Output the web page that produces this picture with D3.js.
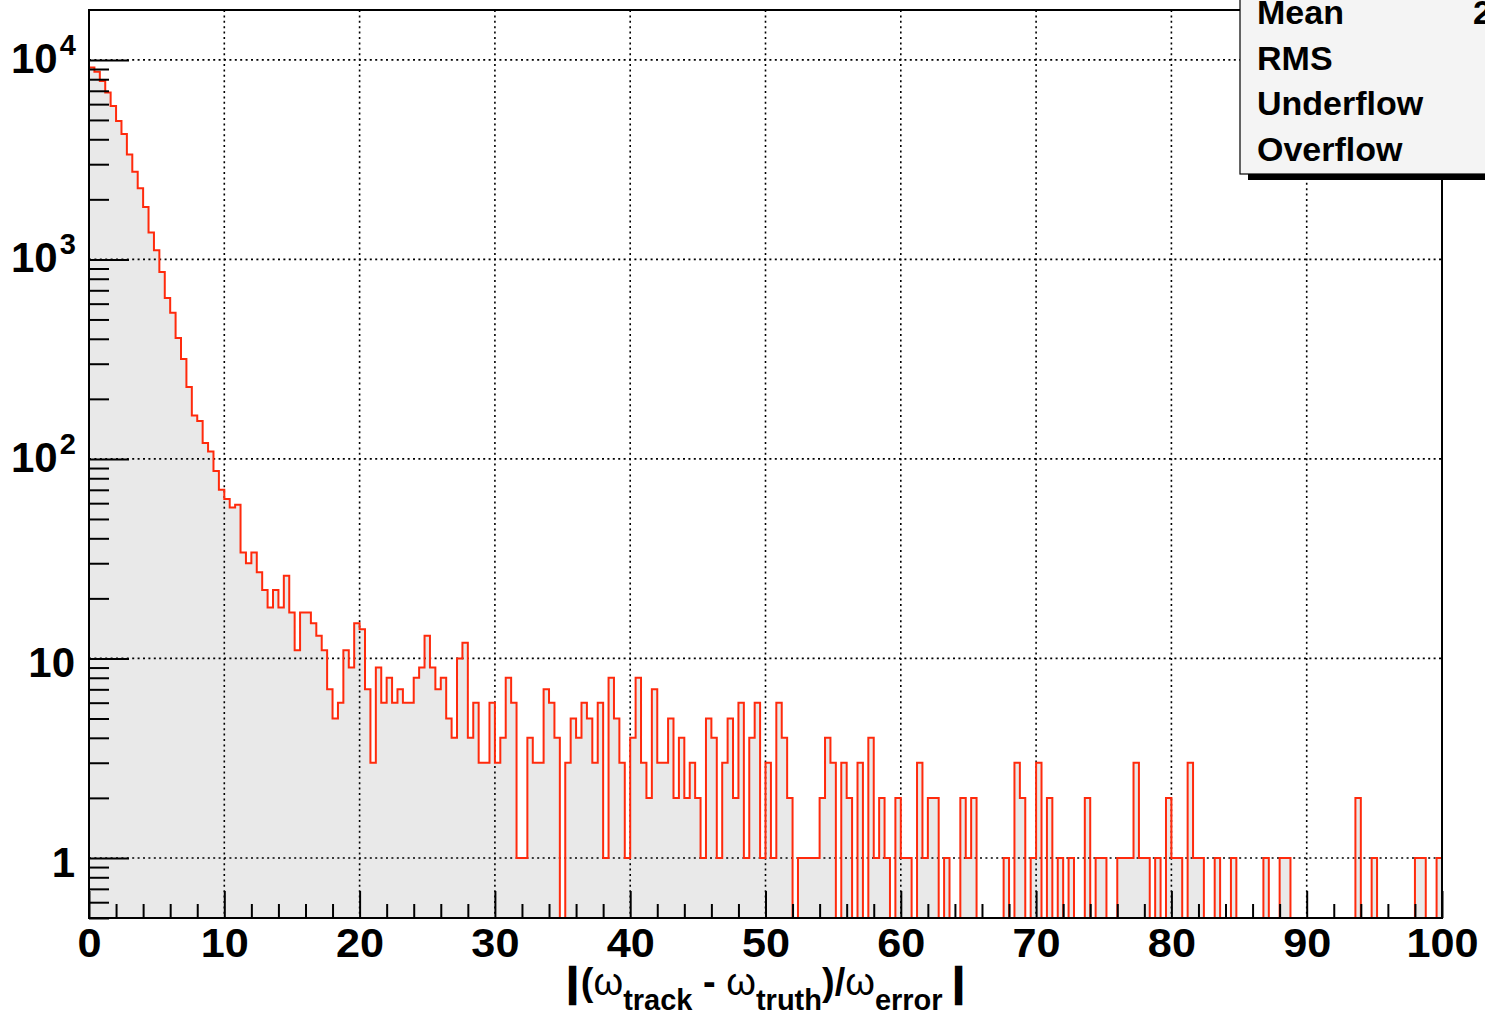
<!DOCTYPE html>
<html>
<head>
<meta charset="utf-8">
<script src="https://cdn.jsdelivr.net/npm/d3@7"></script>
<style>
  html, body { margin: 0; padding: 0; background: #fff; overflow: hidden; }
  svg text { font-family: "Liberation Sans", Arial, Helvetica, sans-serif; font-weight: bold; }
</style>
</head>
<body>
<div id="chart"></div>
<script>
// histogram binning (250 bins on 0..100)
const xMin = 0, xMax = 100, nBins = 250;

// bin contents, bin i = [0.4*i, 0.4*(i+1))
const counts = [
  9150, 8710, 7830, 6860, 5870, 4940, 4250, 3360, 2750, 2270,
  1830, 1365, 1110, 864, 640, 541, 404, 317, 229, 165,
  155, 120, 109, 87, 70, 63, 57, 59, 34, 30,
  34, 27, 22, 18, 22, 18, 26, 17, 11, 17,
  17, 15, 13, 11, 7, 5, 6, 11, 9, 15,
  14, 7, 3, 9, 6, 8, 6, 7, 6, 6,
  8, 9, 13, 9, 7, 8, 5, 4, 10, 12,
  4, 6, 3, 3, 6, 3, 4, 8, 6, 1,
  1, 4, 3, 3, 7, 6, 4, 0, 3, 5,
  4, 6, 5, 3, 6, 1, 8, 5, 3, 1,
  4, 8, 3, 2, 7, 3, 3, 5, 2, 4,
  2, 3, 2, 1, 5, 4, 1, 3, 5, 2,
  6, 1, 4, 6, 1, 3, 1, 6, 4, 2,
  0, 1, 1, 1, 1, 2, 4, 3, 0, 3,
  2, 0, 3, 0, 4, 1, 2, 1, 0, 2,
  1, 1, 0, 3, 1, 2, 2, 0, 1, 0,
  0, 2, 1, 2, 0, 0, 0, 0, 0, 1,
  0, 3, 2, 0, 1, 3, 0, 2, 0, 1,
  0, 1, 0, 0, 2, 0, 1, 1, 0, 0,
  1, 1, 1, 3, 1, 1, 0, 1, 0, 2,
  1, 1, 0, 3, 1, 1, 0, 0, 1, 0,
  0, 1, 0, 0, 0, 0, 0, 1, 0, 0,
  1, 1, 0, 0, 0, 0, 0, 0, 0, 0,
  0, 0, 0, 0, 2, 0, 0, 1, 0, 0,
  0, 0, 0, 0, 0, 1, 1, 0, 0, 1
];

const xMajorTicks = [0, 10, 20, 30, 40, 50, 60, 70, 80, 90, 100];
const yDecades = [1, 10, 100, 1000, 10000];
const yLabels = [["1", ""], ["10", ""], ["10", "2"], ["10", "3"], ["10", "4"]];
const statNames = ["Mean", "RMS", "Underflow", "Overflow"];

const width = 1485, height = 1018;
const frame = {left: 89, right: 1442, top: 10, bottom: 918};
const yMin = 0.5, yMax = 17783;

const svg = d3.select("#chart").append("svg")
  .attr("width", width)
  .attr("height", height);

const x = d3.scaleLinear().domain([xMin, xMax]).range([frame.left, frame.right]);
const y = d3.scaleLog().domain([yMin, yMax]).range([frame.bottom, frame.top]);

const binW = (xMax - xMin) / nBins;
const pts = [];
counts.forEach((c, i) => {
  const v = Math.max(c, yMin);
  pts.push([xMin + i * binW, v], [xMin + (i + 1) * binW, v]);
});

// filled histogram
svg.append("path")
  .datum(pts)
  .attr("fill", "#e9e9e9")
  .attr("d", d3.area().x(d => x(d[0])).y0(frame.bottom).y1(d => y(d[1])));

// grid
const grid = svg.append("g").attr("stroke", "#000").attr("stroke-width", 1.6)
  .attr("stroke-dasharray", "2,3.4");
grid.selectAll("line.gx")
  .data(xMajorTicks.slice(1, -1))
  .enter().append("line")
  .attr("x1", d => x(d)).attr("x2", d => x(d))
  .attr("y1", frame.top).attr("y2", frame.bottom);
grid.selectAll("line.gy")
  .data(yDecades)
  .enter().append("line")
  .attr("x1", frame.left).attr("x2", frame.right)
  .attr("y1", d => y(d)).attr("y2", d => y(d));

// histogram outline
svg.append("path")
  .datum([[xMin, yMin], ...pts, [xMax, yMin]])
  .attr("fill", "none")
  .attr("stroke", "#ff2a0c")
  .attr("stroke-width", 2)
  .attr("d", d3.line().x(d => x(d[0])).y(d => y(d[1])));

// x axis ticks
const xMinor = d3.range(0, 101, 2).filter(v => v % 10 !== 0);
svg.append("g")
  .attr("transform", `translate(0,${frame.bottom})`)
  .call(d3.axisBottom(x).tickValues(xMinor).tickSize(-14).tickFormat(""))
  .call(g => g.select(".domain").remove())
  .selectAll("line").attr("stroke-width", 2);
const xAxis = svg.append("g")
  .attr("transform", `translate(0,${frame.bottom})`)
  .call(d3.axisBottom(x).tickValues(xMajorTicks).tickSize(-27).tickPadding(12));
xAxis.select(".domain").remove();
xAxis.selectAll("line").attr("stroke-width", 2);
xAxis.selectAll("text")
  .attr("font-size", 40).attr("fill", "#000")
  .attr("dy", "0.71em").attr("y", 11)
  .attr("transform", "scale(1.08,1)");

// y axis ticks
const yMinor = [];
[0.1, 1, 10, 100, 1000].forEach(d => {
  for (let k = 2; k <= 9; k++) {
    const v = d * k;
    if (v >= yMin && v <= yMax) yMinor.push(v);
  }
});
svg.append("g")
  .attr("transform", `translate(${frame.left},0)`)
  .call(d3.axisLeft(y).tickValues(yMinor).tickSize(-20).tickFormat(""))
  .call(g => g.select(".domain").remove())
  .selectAll("line").attr("stroke-width", 2);
const yAxis = svg.append("g")
  .attr("transform", `translate(${frame.left},0)`)
  .call(d3.axisLeft(y).tickValues(yDecades).tickSize(-40).tickFormat(""));
yAxis.select(".domain").remove();
yAxis.selectAll("line").attr("stroke-width", 2);

const yl = svg.append("g").selectAll("text")
  .data(yDecades)
  .enter().append("text")
  .attr("fill", "#000")
  .attr("font-size", 42)
  .attr("text-anchor", (d, i) => yLabels[i][1] ? "start" : "end")
  .attr("x", (d, i) => yLabels[i][1] ? 11 : 75)
  .attr("y", (d, i) => y(d) + (yLabels[i][1] ? 13 : 19));
yl.append("tspan").text((d, i) => yLabels[i][0]);
yl.append("tspan")
  .attr("font-size", 29).attr("dy", -18).attr("dx", 2)
  .text((d, i) => yLabels[i][1]);

// frame
svg.append("rect")
  .attr("x", frame.left).attr("y", frame.top)
  .attr("width", frame.right - frame.left).attr("height", frame.bottom - frame.top)
  .attr("fill", "none").attr("stroke", "#000").attr("stroke-width", 2);

// x title
const title = svg.append("text")
  .attr("x", (frame.left + frame.right) / 2)
  .attr("y", 995)
  .attr("text-anchor", "middle")
  .attr("font-size", 38)
  .attr("fill", "#000");
const parts = [
  ["|", 0, true], ["(", 0, true], ["\u03c9", 0, false], ["track", 1, true], [" - ", 0, true],
  ["\u03c9", 0, false], ["truth", 1, true], [")/", 0, true],
  ["\u03c9", 0, false], ["error", 1, true], [" |", 0, true]
];
let prevSub = 0;
parts.forEach(([t, sub, bold]) => {
  const ts = title.append("tspan").text(t)
    .attr("font-weight", bold ? "bold" : "normal")
    .attr("font-size", sub ? 29 : 38);
  if (sub !== prevSub) ts.attr("dy", sub ? 15 : -15);
  if (t.includes("|")) ts.attr("stroke", "#000").attr("stroke-width", 2.5);
  if (t === "(") ts.attr("dx", 3);
  prevSub = sub;
});

// stats box
svg.append("rect")
  .attr("x", 1248).attr("y", -20).attr("width", 300).attr("height", 200)
  .attr("fill", "#000");
svg.append("rect")
  .attr("x", 1240).attr("y", -20).attr("width", 300).attr("height", 194)
  .attr("fill", "#f4f4f4").attr("stroke", "#000").attr("stroke-width", 1.2);
svg.append("g").selectAll("text")
  .data(statNames)
  .enter().append("text")
  .attr("x", 1257)
  .attr("y", (d, i) => 24 + i * 45.7)
  .attr("font-size", 34)
  .attr("fill", "#000")
  .text(d => d);
svg.append("text")
  .attr("x", 1473).attr("y", 24)
  .attr("font-size", 34).attr("fill", "#000")
  .text("2.06");
</script>
</body>
</html>
